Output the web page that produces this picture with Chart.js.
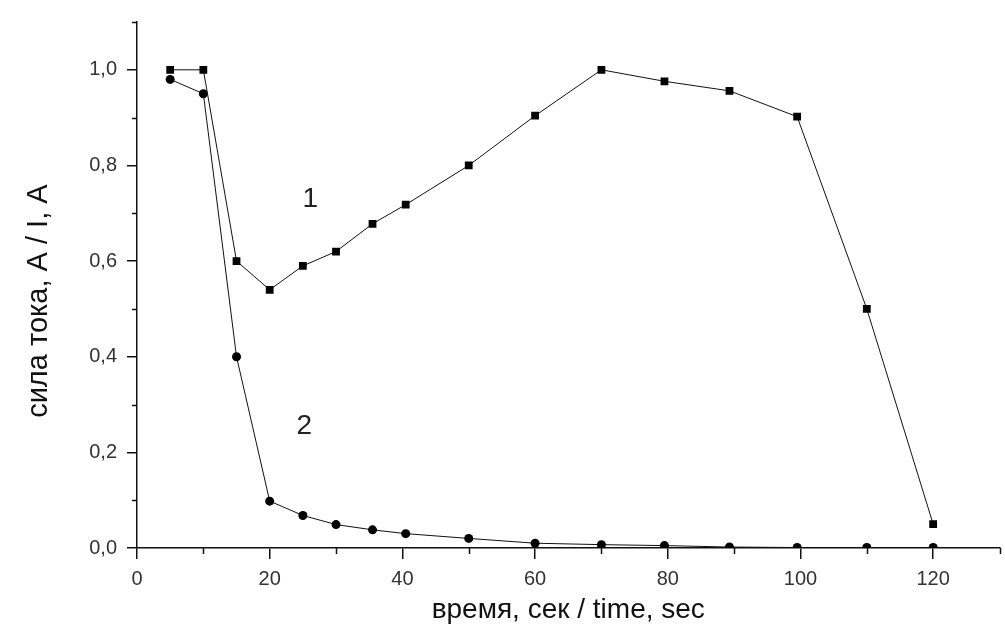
<!DOCTYPE html>
<html>
<head>
<meta charset="utf-8">
<script src="https://cdn.jsdelivr.net/npm/chart.js@4"></script>
<style>
  body { margin: 0; background: #fff; }
  canvas { display: block; }
</style>
</head>
<body>
<canvas id="chart" width="1005" height="640"></canvas>
<script>
// curve 1 (squares)
const time1 = [5, 10, 15, 20, 25, 30, 35.5, 40.5, 50, 60, 70, 79.5, 89.3, 99.5, 110, 120];
const current1 = [1.0, 1.0, 0.6, 0.54, 0.59, 0.62, 0.678, 0.718, 0.8, 0.904, 1.0, 0.976, 0.956, 0.902, 0.5, 0.05];

// curve 2 (circles)
const time2 = [5, 10, 15, 20, 25, 30, 35.5, 40.5, 50, 60, 70, 79.5, 89.3, 99.5, 110, 120];
const current2 = [0.98, 0.95, 0.4, 0.098, 0.068, 0.049, 0.038, 0.03, 0.02, 0.01, 0.007, 0.005, 0.002, 0.001, 0.001, 0.001];

// curve labels "1" and "2"
const curveLabels = ['1', '2'];
const curveLabelAt = [[26.1, 0.73], [25.2, 0.255]];

const FONT = '"Liberation Sans", Arial, sans-serif';

const toPoints = (xs, ys) => xs.map((x, i) => ({ x: x, y: ys[i] }));

// minor ticks + curve labels
const extras = {
    id: 'extras',
    afterDraw(chart) {
        const ctx = chart.ctx;
        const xs = chart.scales.x;
        const ys = chart.scales.y;
        ctx.save();
        ctx.strokeStyle = '#111';
        ctx.lineWidth = 1.5;
        ctx.beginPath();
        for (let v = 10; v <= 130; v += 20) {
            const px = Math.round(xs.getPixelForValue(v)) + 0.5;
            ctx.moveTo(px, xs.top);
            ctx.lineTo(px, xs.top + 6);
        }
        for (let v = 0.1; v <= 1.1; v += 0.2) {
            const py = Math.round(ys.getPixelForValue(v)) + 0.5;
            ctx.moveTo(ys.right, py);
            ctx.lineTo(ys.right - 5, py);
        }
        ctx.stroke();

        ctx.fillStyle = '#222';
        ctx.font = '28px ' + FONT;
        ctx.textAlign = 'center';
        ctx.textBaseline = 'middle';
        curveLabels.forEach((t, i) => {
            ctx.fillText(t, xs.getPixelForValue(curveLabelAt[i][0]), ys.getPixelForValue(curveLabelAt[i][1]));
        });
        ctx.restore();
    }
};

const ctx = document.getElementById('chart').getContext('2d');
new Chart(ctx, {
    type: 'scatter',
    data: {
        datasets: [{
            data: toPoints(time1, current1),
            showLine: true,
            borderColor: '#111',
            borderWidth: 1,
            backgroundColor: '#000',
            pointStyle: 'rect',
            pointRadius: 5.5,
            pointBorderWidth: 0
        }, {
            data: toPoints(time2, current2),
            showLine: true,
            borderColor: '#111',
            borderWidth: 1,
            backgroundColor: '#000',
            pointStyle: 'circle',
            pointRadius: 4.5,
            pointBorderWidth: 0
        }]
    },
    options: {
        responsive: false,
        animation: false,
        layout: { padding: { top: 18, right: 0, left: 0, bottom: 0 } },
        plugins: {
            legend: { display: false },
            tooltip: { enabled: false }
        },
        scales: {
            x: {
                type: 'linear',
                min: 0,
                max: 130,
                afterFit: (scale) => { scale.height = 92; },
                border: { color: '#111', width: 1.5 },
                grid: { drawOnChartArea: false, tickLength: 11, color: '#111', lineWidth: 1.5 },
                ticks: {
                    stepSize: 20,
                    includeBounds: false,
                    padding: 8,
                    color: '#333',
                    font: { family: FONT, size: 20 },
                    maxRotation: 0
                },
                title: {
                    display: true,
                    text: 'время, сек / time, sec',
                    color: '#111',
                    font: { family: FONT, size: 28 },
                    padding: { top: 0, bottom: 13 }
                }
            },
            y: {
                min: 0,
                max: 1.1,
                afterFit: (scale) => { scale.width = 137; },
                border: { color: '#111', width: 1.5 },
                grid: { drawOnChartArea: false, tickLength: 10, color: '#111', lineWidth: 1.5 },
                ticks: {
                    stepSize: 0.2,
                    includeBounds: false,
                    padding: 10,
                    color: '#333',
                    font: { family: FONT, size: 20 },
                    callback: (v) => v.toFixed(1).replace('.', ',')
                },
                title: {
                    display: true,
                    // trailing spaces nudge the rotated title down a little
                    text: 'сила тока, A / I, A    ',
                    color: '#111',
                    font: { family: FONT, size: 29 },
                    padding: { top: 22, bottom: 0 }
                }
            }
        }
    },
    plugins: [extras]
});
</script>
</body>
</html>
